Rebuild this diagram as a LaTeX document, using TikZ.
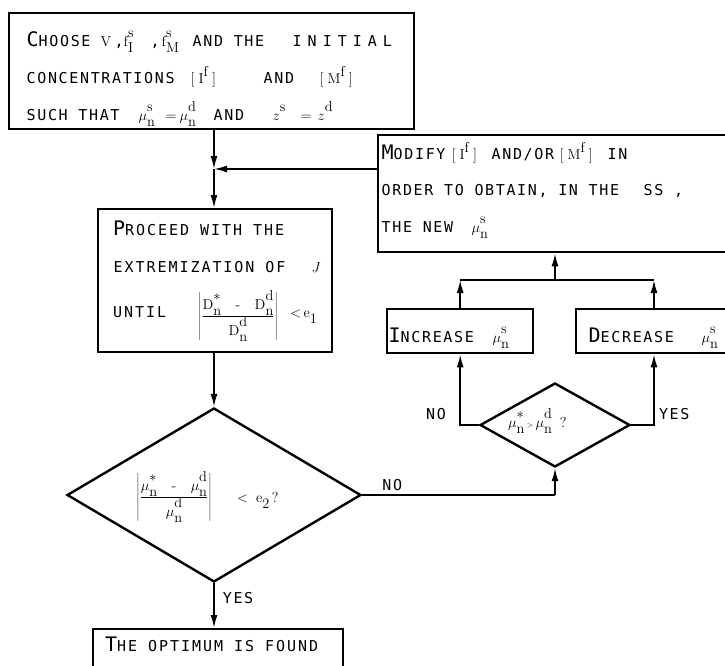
\documentclass[tikz,border=0pt]{standalone}
\usepackage{fontspec}
\usetikzlibrary{arrows.meta,shapes.geometric}
\newfontfamily\tw[LetterSpace=11]{DejaVu Sans Mono}
\newfontfamily\twb[LetterSpace=13]{DejaVu Sans Mono}
\newfontfamily\twwide[LetterSpace=40]{DejaVu Sans Mono}
% first letter set larger, rest as small capitals
\newcommand\initcap[2]{{\fontsize{20}{20}\selectfont #1}#2}
% place material at a fixed offset from the start of the line
\newcommand\putat[2]{\rlap{\hspace*{#1pt}#2}}
% typewriter-style symbols with full-size indices
\newcommand\mfont{\fontsize{14.4}{14.4}\selectfont}
\newcommand\ms[3]{{\mfont$#1$\rlap{\raisebox{9pt}{$\mathrm{#2}$}}\raisebox{-6pt}{$\mathrm{#3}$}}}
\newcommand\msup[2]{{\mfont$#1$\raisebox{9pt}{$\mathrm{#2}$}}}
\newcommand\conc[1]{{\mfont$[\;\mathrm{#1}$\raisebox{7pt}{$\mathrm{f}$}$\;]$}}
\tikzset{
  box/.style={draw, line width=2.4pt, rectangle, inner sep=0pt, anchor=north west},
  test/.style={draw, line width=2.4pt, diamond, inner sep=0pt},
  txt/.style={anchor=base west, inner sep=0pt, font=\tw\fontsize{15}{15}\selectfont},
  frm/.style={inner sep=0pt, font=\mfont},
  link/.style={line width=1.7pt, -{Latex[length=13pt,width=7pt]}},
  wire/.style={line width=1.7pt},
}
\begin{document}
\begin{tikzpicture}[x=1pt,y=-1pt]
\useasboundingbox (0,0) rectangle (725,666);

% boxes
\node[box, minimum width=405pt, minimum height=116pt] (choose) at (8,12) {};
\node[box, minimum width=234pt, minimum height=143pt] (proceed) at (97,208) {};
\node[box, minimum width=370pt, minimum height=117pt] (modify) at (377,134) {};
\node[box, minimum width=146pt, minimum height=44pt] (increase) at (386,308) {};
\node[box, minimum width=170pt, minimum height=44pt] (decrease) at (575,308) {};
\node[box, minimum width=250pt, minimum height=60pt] (final) at (92,628) {};
\node[test, minimum width=294pt, minimum height=174pt] (test1) at (214,495) {};
\node[test, minimum width=150pt, minimum height=84pt] (test2) at (555,425) {};

% junction points
\coordinate (j) at (214,169);
\coordinate (bus) at (555,280);
\coordinate (yes2) at (654,380);

% texts of the first box
\node[txt] (c1) at (26,47) {\putat{0}{\initcap{C}{HOOSE}}%
  \putat{74}{\msup{\mathrm{V}}{}}\putat{88}{,}\putat{97}{\ms{\mathrm{f}}{s}{I}}\putat{124}{,}%
  \putat{135}{\ms{\mathrm{f}}{s}{M}}\putat{166}{AND THE}\putat{266}{\twwide INITIAL}};
\node[txt] (c2) at (26,84) {\putat{0}{CONCENTRATIONS}%
  \putat{164}{\conc{I}}\putat{237}{AND}\putat{293}{\conc{M}}};
\node[txt] (c3) at (26,121) {\putat{0}{SUCH THAT}%
  \putat{112}{\ms{\mu}{s}{n}}\putat{139}{\mfont$=$}\putat{153}{\ms{\mu}{d}{n}}%
  \putat{187}{AND}\putat{246}{\msup{z}{s}}\putat{274}{\mfont$=$}\putat{291}{\msup{z}{d}}};

% texts of the extremization box
\node[txt, font=\twb\fontsize{15}{15}\selectfont] (p1) at (113,235) {\initcap{P}{ROCEED WITH THE}};
\node[txt, font=\twb\fontsize{15}{15}\selectfont] (p2) at (113,272) {\putat{0}{EXTREMIZATION OF}\putat{198}{\msup{J}{}}};
\node[txt, font=\twb\fontsize{15}{15}\selectfont] (p3) at (113,317) {UNTIL};
\node[frm] (p4) at (238,316) {$\left|\frac{\mbox{\ms{\mathrm{D}}{\ast}{n}\quad-\quad\ms{\mathrm{D}}{d}{n}}}{\mbox{\ms{\mathrm{D}}{d}{n}}}\right|$};
\node[frm, anchor=base west] (p5) at (290,317) {$<$\,\ms{\mathrm{e}}{}{1}};

% texts of the modification box
\node[txt] (m1) at (381,159) {\putat{0}{\initcap{M}{ODIFY}}\putat{70}{\conc{I}}%
  \putat{110}{AND/OR}\putat{178}{\conc{M}}\putat{226}{IN}};
\node[txt] (m2) at (381,195) {\putat{0}{ORDER TO OBTAIN, IN THE}\putat{262}{SS ,}};
\node[txt] (m3) at (381,232) {\putat{0}{THE NEW}\putat{90}{\ms{\mu}{s}{n}}};

\node[txt] (i1) at (388,342) {\putat{0}{\initcap{I}{NCREASE}}\putat{104}{\ms{\mu}{s}{n}}};
\node[txt] (d1) at (588,342) {\putat{0}{\initcap{D}{ECREASE}}\putat{113}{\ms{\mu}{s}{n}}};

% texts of the two tests
\node[frm] (t1) at (174,497) {$\left|\frac{\mbox{\ms{\mu}{\ast}{n}\quad-\quad\ms{\mu}{d}{n}}}{\mbox{\ms{\mu}{d}{n}}}\right|$};
\node[frm, anchor=base west] (t1b) at (237,502) {$<$\;\;\ms{\mathrm{e}}{}{2}\,?};
\node[frm, anchor=base west] (t2) at (508,427) {\ms{\mu}{\ast}{n}\,{\scriptsize$>$}\,\ms{\mu}{d}{n}\;\;?};

\node[txt, font=\twb\fontsize{15}{15}\selectfont] (f1) at (105,651) {\initcap{T}{HE OPTIMUM IS FOUND}};

% connectors
\draw[link] (choose.south -| j) -- (j);
\draw[link] (modify.west |- j) -- (j);
\draw[link] (j) -- (proceed.north -| j);
\draw[link] (proceed.south -| j) -- (test1.north);
\draw[link] (test1.south) -- (final.north -| test1.south)
  node[txt, pos=0.45, anchor=base west, xshift=8pt] (yes1) {YES};
\draw[wire] (test1.east) -- (test1.east -| test2.south)
  node[txt, pos=0.1, anchor=base west, yshift=5pt] (no1) {NO};
\draw[link] (test1.east -| test2.south) -- (test2.south);
\draw[link] (test2.west) -| (increase.south)
  node[txt, pos=0, anchor=base east, xshift=-32pt, yshift=6pt] (no2) {NO};
\draw[link] (test2.east) -| (decrease.south -| yes2)
  node[txt, pos=0, anchor=base west, xshift=27pt, yshift=6pt] (yes2l) {YES};
\draw[link] (increase.north) -- (increase.north |- bus);
\draw[link] (decrease.north -| yes2) -- (yes2 |- bus);
\draw[wire] (increase.north |- bus) -- (yes2 |- bus);
\draw[link] (bus) -- (modify.south -| bus);
\end{tikzpicture}
\end{document}
